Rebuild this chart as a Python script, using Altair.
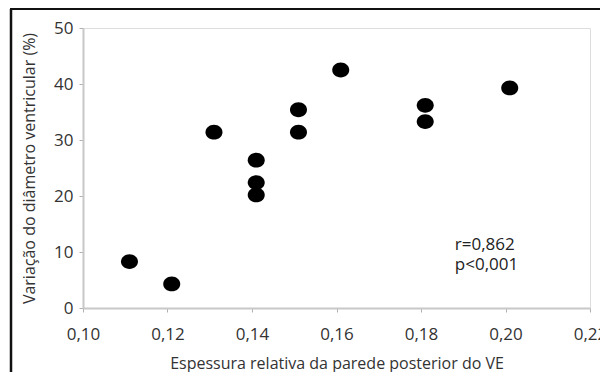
import altair as alt
import pandas as pd

# Data
espessura = [0.111, 0.121, 0.131, 0.141, 0.141, 0.141, 0.151, 0.151, 0.161, 0.181, 0.181, 0.201]
variacao = [8.3, 4.3, 31.4, 26.4, 22.4, 20.2, 35.4, 31.4, 42.5, 36.2, 33.3, 39.3]
x_ticks = [0.10, 0.12, 0.14, 0.16, 0.18, 0.20, 0.22]
y_ticks = [0, 10, 20, 30, 40, 50]
annot_text = ["r=0,862", "p<0,001"]
annot_x = [0.188, 0.188]
annot_y = [10.4, 6.8]

FONT = "Open Sans"
df = pd.DataFrame({"x": espessura, "y": variacao})
ann = pd.DataFrame({"t": annot_text, "x": annot_x, "y": annot_y})

xscale = alt.Scale(domain=[0.10, 0.22], nice=False, zero=False)
yscale = alt.Scale(domain=[0, 50], nice=False, zero=False)

ellipse = "M-1,0A1,0.87,0,1,0,1,0A1,0.87,0,1,0,-1,0Z"

points = alt.Chart(df).mark_point(
    shape=ellipse, filled=True, color="#000000", opacity=1, size=289
).encode(
    x=alt.X("x:Q", scale=xscale,
            axis=alt.Axis(values=x_ticks, title="Espessura relativa da parede posterior do VE",
                          labelExpr="replace(format(datum.value, '.2f'), '.', ',')",
                          grid=False, domainColor="#c8c8c8", domainWidth=2,
                          tickColor="#b0b0b0", tickSize=4, tickWidth=1,
                          labelFont=FONT, labelFontSize=17, labelColor="#333333",
                          labelPadding=14, labelFlush=False,
                          titleFont=FONT, titleFontSize=16, titleFontWeight="normal",
                          titleColor="#333333", titleBaseline="alphabetic", titleY=60)),
    y=alt.Y("y:Q", scale=yscale,
            axis=alt.Axis(values=y_ticks, title="Variação do diâmetro ventricular (%)",
                          format="d", grid=False, domainColor="#c8c8c8", domainWidth=2,
                          tickColor="#b0b0b0", tickSize=4, tickWidth=1,
                          labelFont=FONT, labelFontSize=17, labelColor="#333333",
                          labelPadding=6, labelFlush=False,
                          titleFont=FONT, titleFontSize=16, titleFontWeight="normal",
                          titleColor="#333333", titleBaseline="alphabetic",
                          titleAngle=-90, titleX=-49)),
)

texts = alt.Chart(ann).mark_text(
    align="left", baseline="alphabetic", font=FONT, fontSize=17, color="#222222"
).encode(x=alt.X("x:Q", scale=xscale), y=alt.Y("y:Q", scale=yscale), text="t:N")

frame_left = alt.Chart(pd.DataFrame({"a": [0]})).mark_rule(color="#111111", strokeWidth=2.5).encode(
    x=alt.value(-72), y=alt.value(-19), y2=alt.value(400))
frame_top = alt.Chart(pd.DataFrame({"a": [0]})).mark_rule(color="#111111", strokeWidth=2).encode(
    x=alt.value(-73), x2=alt.value(600), y=alt.value(-19))

chart = alt.layer(frame_left, frame_top, points, texts).properties(
    width=507, height=280,
    autosize=alt.AutoSizeParams(type="none"),
    padding={"left": 75, "top": 20, "right": 10, "bottom": 64},
).configure_view(stroke=None).configure(background="white")

chart.save("out.html", embed_options={"renderer": "svg", "actions": False})
